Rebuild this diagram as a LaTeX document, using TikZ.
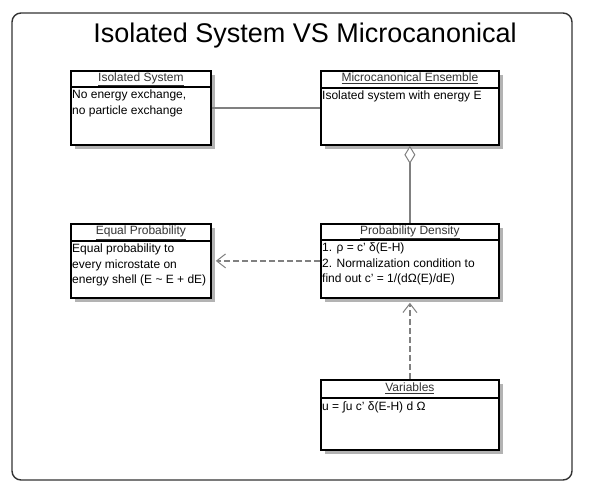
\documentclass[tikz,border=0pt]{standalone}
\usepackage{fontspec}
\setmainfont{Liberation Sans}
\usepackage{tikz}
\usetikzlibrary{positioning, shadows, arrows.meta}
\definecolor{frame_grey}{RGB}{51, 51, 51}
\definecolor{shadow_grey}{RGB}{179, 179, 179}
\definecolor{line_grey}{RGB}{128, 128, 128}

\tikzset{
	umlbox/.style={draw=black, line width=1.8pt, fill=white, anchor=north west, inner sep=0pt,
		drop shadow={shadow xshift=4pt, shadow yshift=-4pt, fill=shadow_grey, opacity=1}},
	umltitle/.style={inner sep=0pt, font=\fontsize{12}{14}\selectfont, text=frame_grey},
	umlbody/.style={inner xsep=2pt, inner ysep=0pt, anchor=north west, align=left, font=\fontsize{12}{15.5}\selectfont},
	dashlink/.style={draw=line_grey, line width=1.4pt, dash pattern=on 6pt off 3pt},
}
\newcommand{\ultitle}[1]{\underline{#1}}

\begin{document}
\begin{tikzpicture}[x=1pt, y=-1pt]
	\useasboundingbox (0,0) rectangle (592,500);
	% outer frame
	\draw[frame_grey, line width=1.4pt, rounded corners=9pt] (12,13) rectangle (572,480);
	\node[inner sep=0pt, font=\fontsize{27}{30}\selectfont] (heading) at (305,36) {Isolated System VS Microcanonical};
	
	% boxes
	\node[umlbox, minimum width=140pt, minimum height=74pt] (iso) at (70,70) {};
	\node[umlbox, minimum width=178pt, minimum height=74pt] (mce) at (320,70) {};
	\node[umlbox, minimum width=140pt, minimum height=74pt] (eqp) at (70,223) {};
	\node[umlbox, minimum width=178pt, minimum height=74pt] (pd) at (320,223) {};
	\node[umlbox, minimum width=178pt, minimum height=70pt] (var) at (320,379) {};
	
	% title bars
	\foreach \b/\h in {iso/17, mce/18, eqp/18, pd/17, var/19}{
		\draw[black, line width=1.6pt] ([yshift=-\h pt]\b.north west) -- ([yshift=-\h pt]\b.north east);
	}
	\node[umltitle, below=2.5pt of iso.north] (isot) {\ultitle{Isolated System}};
	\node[umltitle, below=3pt of mce.north] (mcet) {\ultitle{Microcanonical Ensemble}};
	\node[umltitle, below=3pt of eqp.north] (eqpt) {\ultitle{Equal Probability}};
	\node[umltitle, below=2.5pt of pd.north] (pdt) {\ultitle{Probability Density}};
	\node[umltitle, below=4pt of var.north] (vart) {\ultitle{Variables}};
	
	% texts
	\node[umlbody] (isob) at ([yshift=-20pt]iso.north west) {No energy exchange,\\no particle exchange};
	\node[umlbody] (mceb) at ([yshift=-21pt]mce.north west) {Isolated system with energy E};
	\node[umlbody] (eqpb) at ([yshift=-21pt]eqp.north west) {Equal probability to\\every microstate on\\energy shell (E \textasciitilde{} E + dE)};
	\node[umlbody] (pdb) at ([yshift=-20pt]pd.north west) {1. ρ = c' δ(E-H)\\2. Normalization condition to\\find out c' = 1/(dΩ(E)/dE)};
	\node[umlbody] (varb) at ([yshift=-22pt]var.north west) {u = ∫u c' δ(E-H) d Ω};
	
	% links
	\draw[line_grey, line width=1.4pt] (iso.east) -- (mce.west);
	\draw[line_grey, line width=1.4pt, {Diamond[open, fill=white, length=18pt, width=11pt, line width=1pt]}-] (mce.south) -- (pd.north);
	\draw[dashlink, -{Straight Barb[length=9pt, width=14pt, line width=1pt]}] (pd.west) -- ([xshift=4pt]eqp.east);
	\draw[dashlink, -{Straight Barb[length=9pt, width=14pt, line width=1pt]}] (var.north) -- ([yshift=-4pt]pd.south);
\end{tikzpicture}
\end{document}
